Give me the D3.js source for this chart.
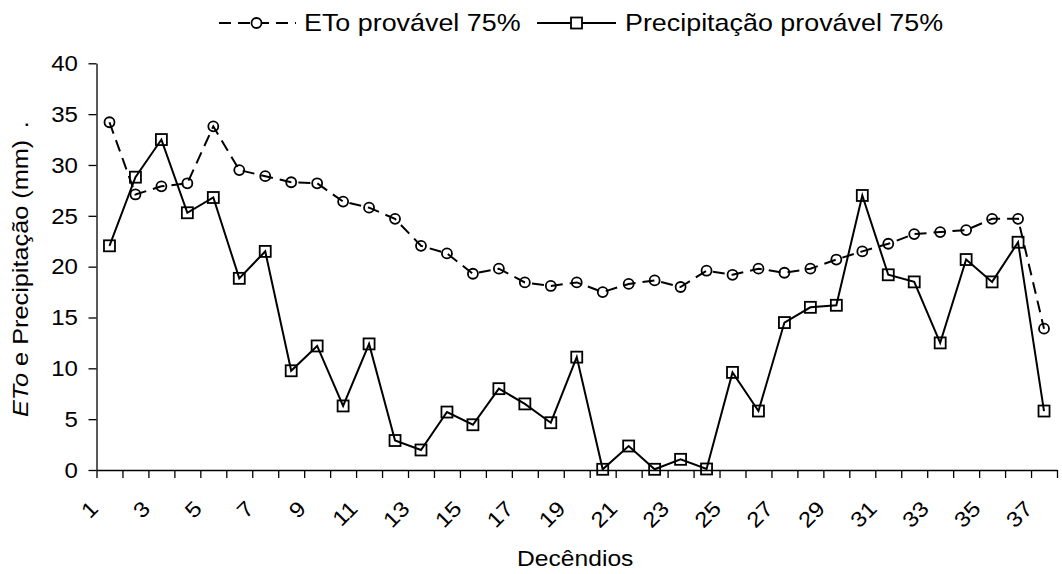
<!DOCTYPE html>
<html><head><meta charset="utf-8">
<script src="https://cdn.jsdelivr.net/npm/d3@7"></script>
<style>body{margin:0;background:#fff} text{font-family:"Liberation Sans",Arial,sans-serif;fill:#000}</style>
</head><body><svg id="c" width="1062" height="574"></svg>
<script>
const categories = [1,2,3,4,5,6,7,8,9,10,11,12,13,14,15,16,17,18,19,20,21,22,23,24,25,26,27,28,29,30,31,32,33,34,35,36,37];
const etoValues = [34.2,27.1,27.9,28.2,33.8,29.5,28.9,28.3,28.2,26.4,25.8,24.7,22.05,21.3,19.3,19.8,18.45,18.1,18.45,17.5,18.3,18.65,18.0,19.6,19.2,19.8,19.4,19.8,20.7,21.5,22.25,23.2,23.4,23.6,24.7,24.7,13.9];
const precipValues = [22.05,28.8,32.5,25.3,26.8,18.85,21.5,9.76,12.2,6.3,12.4,2.9,1.97,5.7,4.45,8.0,6.5,4.65,11.1,0.07,2.36,0.07,1.05,0.1,9.6,5.8,14.5,16.0,16.2,27.0,19.2,18.5,12.5,20.7,18.5,22.4,5.8];
const yTicks = [0,5,10,15,20,25,30,35,40];
const xTickLabels = [1,3,5,7,9,11,13,15,17,19,21,23,25,27,29,31,33,35,37];
const seriesNames = ["ETo provável 75%", "Precipitação provável 75%"];
const xTitle = "Decêndios";

const svg = d3.select("#c");
const pL = 96.5, pR = 1057, pT = 63.3, pB = 470;
const SX = 1.12; // slight horizontal text stretch seen in the reference
const x = d3.scaleBand().domain(categories).range([pL, pR]);
const xb = d3.scaleLinear().domain([0, categories.length]).range([pL, pR]);
const y = d3.scaleLinear().domain([0, 40]).range([pB, pT]);
const cx = c => x(c) + x.bandwidth() / 2;

// Y axis
const gy = svg.append("g").attr("transform", `translate(${pL},0)`)
  .call(d3.axisLeft(y).tickValues(yTicks).tickSize(8).tickSizeOuter(0).tickFormat(""));
gy.select(".domain").attr("stroke", "#000").attr("stroke-width", 1.3);
gy.selectAll(".tick line").attr("stroke", "#000").attr("stroke-width", 1.3);
svg.append("g").selectAll("text").data(yTicks).join("text")
  .attr("transform", d => `translate(78,${y(d)}) scale(${SX},1)`)
  .attr("text-anchor", "end").attr("dy", "0.36em")
  .style("font-size", "21.5px").text(d => d);

// X axis (ticks at category boundaries)
const gx = svg.append("g").attr("transform", `translate(0,${pB})`)
  .call(d3.axisBottom(xb).tickValues(d3.range(0, categories.length + 1)).tickSize(8).tickSizeOuter(0).tickFormat(""));
gx.select(".domain").attr("stroke", "#000").attr("stroke-width", 1.3);
gx.selectAll(".tick line").attr("stroke", "#000").attr("stroke-width", 1.3);

svg.append("g").selectAll("text").data(xTickLabels).join("text")
  .attr("transform", d => `translate(${cx(d) - 21},${pB + 29}) rotate(-45) scale(${SX},1)`)
  .attr("text-anchor", "end").attr("dy", "0.72em")
  .style("font-size", "21.5px").text(d => d);

// Axis titles
svg.append("text").attr("transform", `translate(${(pL + pR) / 2 - 1.5},566) scale(1.12,1)`)
  .attr("text-anchor", "middle").style("font-size", "22px").text(xTitle);

const yt = svg.append("text").attr("transform", `translate(28,417) rotate(-90) scale(1.15,1)`)
  .attr("text-anchor", "start").style("font-size", "22px");
yt.append("tspan").style("font-style", "italic").text("ETo");
yt.append("tspan").text(" e Precipitação (mm)");
yt.append("tspan").attr("dx", 10).text(".");

// Lines
const dash = "12,7";
const line = d3.line().x((d, i) => cx(categories[i])).y(d => y(d));
svg.append("path").datum(etoValues).attr("d", line).attr("fill", "none")
  .attr("stroke", "#000").attr("stroke-width", 2).attr("stroke-dasharray", dash);
svg.append("path").datum(precipValues).attr("d", line).attr("fill", "none")
  .attr("stroke", "#000").attr("stroke-width", 2);

svg.append("g").selectAll("circle").data(etoValues).join("circle")
  .attr("cx", (d, i) => cx(categories[i])).attr("cy", d => y(d)).attr("r", 5)
  .attr("fill", "none").attr("stroke", "#000").attr("stroke-width", 1.8);
svg.append("g").selectAll("rect").data(precipValues).join("rect")
  .attr("x", (d, i) => cx(categories[i]) - 5.5).attr("y", d => y(d) - 5.5)
  .attr("width", 11).attr("height", 11)
  .attr("fill", "none").attr("stroke", "#000").attr("stroke-width", 1.8);

// Legend
const lg = svg.append("g");
const ly = 23, lb = 31;
const lfs = "24px", LSX = 1.12;
lg.append("line").attr("x1", 217).attr("x2", 296).attr("y1", ly).attr("y2", ly)
  .attr("stroke", "#000").attr("stroke-width", 2).attr("stroke-dasharray", dash).attr("stroke-dashoffset", -2);
lg.append("circle").attr("cx", 256.5).attr("cy", ly).attr("r", 5).attr("fill", "#fff")
  .attr("stroke", "#000").attr("stroke-width", 1.8);
lg.append("text").attr("transform", `translate(304,${lb}) scale(${LSX},1)`)
  .style("font-size", lfs).text(seriesNames[0]);
lg.append("line").attr("x1", 537).attr("x2", 616).attr("y1", ly).attr("y2", ly)
  .attr("stroke", "#000").attr("stroke-width", 2);
lg.append("rect").attr("x", 576.5 - 5.5).attr("y", ly - 5.5).attr("width", 11).attr("height", 11)
  .attr("fill", "#fff").attr("stroke", "#000").attr("stroke-width", 1.8);
lg.append("text").attr("transform", `translate(625,${lb}) scale(${LSX},1)`)
  .style("font-size", lfs).text(seriesNames[1]);
</script></body></html>
